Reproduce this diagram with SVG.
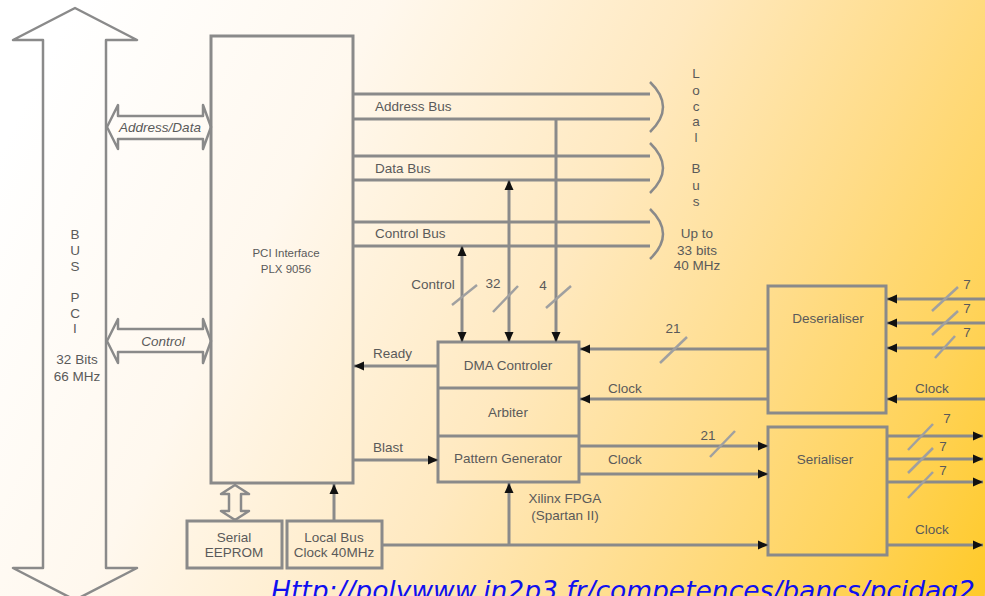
<svg xmlns="http://www.w3.org/2000/svg" width="985" height="596" viewBox="0 0 985 596">
<defs>
<linearGradient id="bg" gradientUnits="userSpaceOnUse" x1="0" y1="150" x2="985" y2="650">
<stop offset="0" stop-color="#FFFFFF"/>
<stop offset="0.25" stop-color="#FFF8EE"/>
<stop offset="0.5" stop-color="#FFE9C0"/>
<stop offset="0.7" stop-color="#FFDC88"/>
<stop offset="0.85" stop-color="#FFD35A"/>
<stop offset="1" stop-color="#FFC820"/>
</linearGradient>
<marker id="ah" markerUnits="userSpaceOnUse" markerWidth="11" markerHeight="10" refX="10" refY="5" orient="auto">
<path d="M0,0.5 L10,5 L0,9.5 z" fill="#111"/>
</marker>
<style>
.ln{stroke:#8a8a8a;stroke-width:3;fill:none}
.bx{stroke:#8a8a8a;stroke-width:3;fill:none}
.ol{stroke:#8a8a8a;stroke-width:2.5;fill:none;stroke-linejoin:round}
.sl{stroke:#a0a0a0;stroke-width:2.5;fill:none}
.ar{marker-end:url(#ah)}
text{font-family:"Liberation Sans",Arial,sans-serif;font-size:13.5px;fill:#5a5a5a}
.c{text-anchor:middle}
.sm{font-size:11.5px}
.it{font-style:italic}
.url{font-family:"DejaVu Sans",Verdana,sans-serif;font-style:italic;font-size:26.5px;fill:#1010f0}
</style>
</defs>
<rect x="0" y="0" width="985" height="596" fill="url(#bg)"/>

<g id="pci-bus">
<polygon class="ol" points="75,8 137,40 106,40 106,568 137,568 75,600 13,568 43,568 43,40 13,40"/>
<text class="c" x="75"><tspan x="75" y="239">B</tspan><tspan x="75" y="255">U</tspan><tspan x="75" y="271">S</tspan><tspan x="75" y="302">P</tspan><tspan x="75" y="318">C</tspan><tspan x="75" y="333">I</tspan></text>
<text class="c" x="77" y="364">32 Bits</text>
<text class="c" x="77" y="381">66 MHz</text>
</g>

<g id="pci-interface">
<rect class="bx" x="211" y="36" width="142" height="447"/>
<text class="c sm" x="286" y="257">PCI Interface</text>
<text class="c sm" x="286" y="273">PLX 9056</text>
</g>

<g id="address-data">
<polygon class="ol" points="107,127 118,105 118,116 203,116 203,105 211,127 203,149 203,139 118,139 118,149"/>
<text class="c it" x="160" y="132">Address/Data</text>
</g>

<g id="control-bus-pci">
<polygon class="ol" points="107,341 118,319 118,329 203,329 203,319 211,341 203,363 203,352 118,352 118,363"/>
<text class="c it" x="163" y="346">Control</text>
</g>

<g id="local-bus">
<text class="c" x="696"><tspan x="696" y="78">L</tspan><tspan x="696" y="95">o</tspan><tspan x="696" y="111">c</tspan><tspan x="696" y="126">a</tspan><tspan x="696" y="142">l</tspan><tspan x="696" y="173">B</tspan><tspan x="696" y="190">u</tspan><tspan x="696" y="206">s</tspan></text>
<text class="c" x="697" y="238">Up to</text>
<text class="c" x="697" y="255">33 bits</text>
<text class="c" x="697" y="270">40 MHz</text>
</g>

<g id="fpga">
<rect class="bx" x="438" y="342" width="141" height="140"/>
<line class="bx" x1="438" y1="388" x2="579" y2="388"/>
<line class="bx" x1="438" y1="436" x2="579" y2="436"/>
<text class="c" x="508" y="370">DMA Controler</text>
<text class="c" x="508" y="417">Arbiter</text>
<text class="c" x="508" y="463">Pattern Generator</text>
<text class="c" x="565" y="503">Xilinx FPGA</text>
<text class="c" x="565" y="520">(Spartan II)</text>
</g>

<g id="deserialiser">
<rect class="bx" x="768" y="286" width="118" height="127"/>
<text class="c" x="828" y="323">Deserialiser</text>
</g>

<g id="serialiser">
<rect class="bx" x="768" y="427" width="119" height="128"/>
<text class="c" x="825" y="464">Serialiser</text>
</g>

<g id="eeprom">
<rect class="bx" x="187" y="521" width="95" height="47"/>
<text class="c" x="234" y="542">Serial</text>
<text class="c" x="234" y="557">EEPROM</text>
</g>

<g id="local-clock">
<rect class="bx" x="287" y="521" width="95" height="47"/>
<text class="c" x="334" y="542">Local Bus</text>
<text class="c" x="334" y="557">Clock 40MHz</text>
</g>

<g id="connectors">
<path class="ln" d="M353,94 H650 M353,119 H650"/>
<path class="ol" d="M650,82 Q676,107 650,132"/>
<text x="375" y="111">Address Bus</text>
<path class="ln" d="M353,156 H650 M353,180 H650"/>
<path class="ol" d="M650,143 Q676,168 650,193"/>
<text x="375" y="173">Data Bus</text>
<path class="ln" d="M353,222 H650 M353,246 H650"/>
<path class="ol" d="M650,209 Q676,234 650,259"/>
<text x="375" y="238">Control Bus</text>

<line class="ln ar" x1="556" y1="119" x2="556" y2="342"/>
<line class="ln ar" x1="509" y1="262" x2="509" y2="342"/>
<line class="ln ar" x1="509" y1="262" x2="509" y2="180"/>
<line class="ln ar" x1="462" y1="294" x2="462" y2="342"/>
<line class="ln ar" x1="462" y1="294" x2="462" y2="246"/>
<line class="sl" x1="452" y1="305" x2="477" y2="285"/>
<line class="sl" x1="493" y1="312" x2="518" y2="286"/>
<line class="sl" x1="546" y1="308" x2="571" y2="286"/>
<text class="c" x="433" y="289">Control</text>
<text class="c" x="493" y="288">32</text>
<text class="c" x="543" y="290">4</text>

<line class="ln ar" x1="438" y1="366" x2="354" y2="366"/>
<text x="373" y="358">Ready</text>
<line class="ln ar" x1="353" y1="460" x2="438" y2="460"/>
<text x="373" y="452">Blast</text>

<polygon class="ol" points="235,485 249,494 241,494 241,511 249,511 235,520 221,511 229,511 229,494 221,494"/>
<line class="ln ar" x1="334" y1="521" x2="334" y2="484"/>
<line class="ln ar" x1="382" y1="545" x2="768" y2="545"/>
<line class="ln ar" x1="509" y1="545" x2="509" y2="483"/>

<line class="ln ar" x1="768" y1="349" x2="580" y2="349"/>
<line class="sl" x1="660" y1="363" x2="687" y2="337"/>
<text class="c" x="673" y="333">21</text>
<line class="ln ar" x1="768" y1="399" x2="580" y2="399"/>
<text class="c" x="625" y="393">Clock</text>

<line class="ln ar" x1="579" y1="446" x2="768" y2="446"/>
<line class="sl" x1="710" y1="457" x2="735" y2="431"/>
<text class="c" x="708" y="440">21</text>
<line class="ln ar" x1="579" y1="474" x2="768" y2="474"/>
<text class="c" x="625" y="464">Clock</text>

<line class="ln ar" x1="985" y1="299" x2="887" y2="299"/>
<line class="ln ar" x1="985" y1="323" x2="887" y2="323"/>
<line class="ln ar" x1="985" y1="348" x2="887" y2="348"/>
<line class="ln ar" x1="985" y1="399" x2="887" y2="399"/>
<line class="sl" x1="932" y1="311" x2="958" y2="287"/>
<line class="sl" x1="932" y1="335" x2="958" y2="311"/>
<line class="sl" x1="935" y1="358" x2="955" y2="336"/>
<text class="c" x="967" y="289">7</text>
<text class="c" x="967" y="313">7</text>
<text class="c" x="967" y="337">7</text>
<text class="c" x="932" y="393">Clock</text>

<line class="ln ar" x1="887" y1="436" x2="983" y2="436"/>
<line class="ln ar" x1="887" y1="459" x2="983" y2="459"/>
<line class="ln ar" x1="887" y1="482" x2="983" y2="482"/>
<line class="ln ar" x1="887" y1="545" x2="983" y2="545"/>
<line class="sl" x1="908" y1="450" x2="933" y2="424"/>
<line class="sl" x1="908" y1="473" x2="933" y2="448"/>
<line class="sl" x1="908" y1="498" x2="933" y2="472"/>
<text class="c" x="947" y="423">7</text>
<text class="c" x="943" y="451">7</text>
<text class="c" x="943" y="475">7</text>
<text class="c" x="932" y="534">Clock</text>
</g>

<text class="url" x="271" y="600">Http://polywww.in2p3.fr/competences/bancs/pcidaq2.htm</text>
</svg>
